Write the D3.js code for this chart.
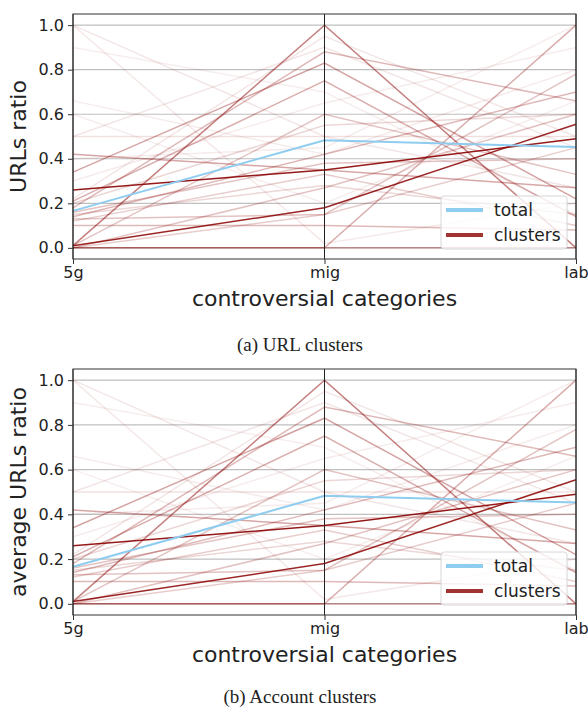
<!DOCTYPE html>
<html>
<head>
<meta charset="utf-8">
<script src="https://cdn.jsdelivr.net/npm/d3@7"></script>
<style>
  body { margin: 0; background: #fff; }
  svg text { font-family: "DejaVu Sans", sans-serif; fill: #222; }
  .caption { font-family: "Liberation Serif", "DejaVu Serif", serif; }
</style>
</head>
<body>
<div id="chart"></div>
<script>
  "use strict";

  // categories on the parallel axes
  var categories = ["5g", "mig", "lab"];
  var yTicks = [0.0, 0.2, 0.4, 0.6, 0.8, 1.0];

  // overall ratio
  var totalValues = [0.166, 0.483, 0.453];

  // one row per cluster: values at 5g, mig, lab
  var clusterValues = [
    [0.26, 0.35, 0.49],
    [0.01, 0.18, 0.555],
    [0.01, 1.00, 0.00],
    [0.00, 0.00, 1.00],
    [0.00, 0.00, 0.00],
    [0.42, 0.35, 0.27],
    [0.34, 0.83, 0.22],
    [0.21, 0.75, 0.14],
    [0.18, 0.88, 0.66],
    [0.14, 0.42, 0.70],
    [0.10, 0.10, 0.08],
    [0.13, 0.15, 0.78],
    [0.00, 0.27, 0.60],
    [0.16, 0.38, 0.40],
    [0.01, 0.60, 0.33],
    [0.50, 0.50, 0.50],
    [1.00, 0.50, 0.27],
    [1.00, 0.02, 0.20],
    [0.66, 0.42, 0.80],
    [0.50, 0.90, 0.45],
    [0.22, 0.95, 0.50],
    [0.30, 0.65, 0.90],
    [0.12, 0.33, 0.10],
    [0.20, 0.55, 0.60],
    [0.00, 0.15, 0.45],
    [0.90, 0.70, 0.15],
    [0.15, 0.28, 0.15],
    [0.40, 0.45, 1.00],
    [0.60, 0.20, 0.66]
  ];
  // line opacity for each cluster (cluster weight)
  var clusterAlpha = [
    0.9, 0.85, 0.5, 0.32, 0.35, 0.35, 0.36, 0.32, 0.28, 0.28,
    0.28, 0.24, 0.24, 0.24, 0.24, 0.12, 0.1, 0.09, 0.08, 0.1,
    0.1, 0.08, 0.2, 0.16, 0.2, 0.07, 0.16, 0.08, 0.07
  ];

  var panels = [
    { top: 14, bottom: 259, ylabel: "URLs ratio", caption: "(a) URL clusters", capY: 351 },
    { top: 369, bottom: 615, ylabel: "average URLs ratio", caption: "(b) Account clusters", capY: 703 }
  ];

  var left = 73, right = 576;

  var svg = d3.select("#chart").append("svg")
    .attr("width", 588)
    .attr("height", 710);

  var x = d3.scalePoint().domain(categories).range([left, right]);

  panels.forEach(function (p) {
    var y = d3.scaleLinear().domain([-0.05, 1.05]).range([p.bottom, p.top]);
    var g = svg.append("g");

    // grid
    g.selectAll("line.grid")
      .data(yTicks)
      .enter().append("line")
        .attr("class", "grid")
        .attr("x1", left).attr("x2", right)
        .attr("y1", function (d) { return y(d); })
        .attr("y2", function (d) { return y(d); })
        .attr("stroke", "#b0b0b0")
        .attr("stroke-opacity", 0.8)
        .attr("stroke-width", 1.2);

    var line = d3.line()
      .x(function (d, i) { return x(categories[i]); })
      .y(function (d) { return y(d); });

    // clusters
    g.selectAll("path.cluster")
      .data(clusterValues)
      .enter().append("path")
        .attr("class", "cluster")
        .attr("d", line)
        .attr("fill", "none")
        .attr("stroke", "darkred")
        .attr("stroke-width", 1.5)
        .attr("stroke-opacity", function (d, i) { return clusterAlpha[i]; });

    // total
    g.append("path")
      .datum(totalValues)
      .attr("d", line)
      .attr("fill", "none")
      .attr("stroke", "#8ecdf0")
      .attr("stroke-width", 2);

    // vertical axes
    g.selectAll("line.vax")
      .data(categories)
      .enter().append("line")
        .attr("class", "vax")
        .attr("x1", function (d) { return x(d); })
        .attr("x2", function (d) { return x(d); })
        .attr("y1", p.top).attr("y2", p.bottom)
        .attr("stroke", "#222")
        .attr("stroke-width", 1);

    // frame
    g.append("rect")
      .attr("x", left).attr("y", p.top)
      .attr("width", right - left).attr("height", p.bottom - p.top)
      .attr("fill", "none")
      .attr("stroke", "#333")
      .attr("stroke-width", 1);

    // y axis
    var yAxis = d3.axisLeft(y).tickValues(yTicks).tickFormat(d3.format(".1f")).tickSize(5).tickPadding(4);
    var ya = g.append("g").attr("transform", "translate(" + left + ",0)").call(yAxis);
    ya.select(".domain").remove();
    ya.selectAll("text").style("font-size", "16px").attr("fill", "#222");
    ya.selectAll("line").attr("stroke", "#333");

    // x axis
    var xAxis = d3.axisBottom(x).tickSize(5).tickPadding(3);
    var xa = g.append("g").attr("transform", "translate(0," + p.bottom + ")").call(xAxis);
    xa.select(".domain").remove();
    xa.selectAll("text").style("font-size", "16px").attr("fill", "#222");
    xa.selectAll("line").attr("stroke", "#333");

    // labels
    g.append("text")
      .attr("transform", "translate(26," + ((p.top + p.bottom) / 2) + ") rotate(-90)")
      .attr("text-anchor", "middle")
      .style("font-size", "22px")
      .text(p.ylabel);

    g.append("text")
      .attr("x", (left + right) / 2)
      .attr("y", p.bottom + 47)
      .attr("text-anchor", "middle")
      .style("font-size", "22px")
      .text("controversial categories");

    g.append("text")
      .attr("class", "caption")
      .attr("x", 300)
      .attr("y", p.capY)
      .attr("text-anchor", "middle")
      .style("font-size", "19px")
      .text(p.caption);

    // legend
    var lg = g.append("g").attr("transform", "translate(441," + (p.bottom - 63) + ")");
    lg.append("rect")
      .attr("width", 126).attr("height", 53)
      .attr("rx", 3)
      .attr("fill", "#fff").attr("fill-opacity", 0.8)
      .attr("stroke", "#d6d6d6");
    var items = [{ name: "total", color: "#8ecdf0", op: 1 }, { name: "clusters", color: "darkred", op: 0.8 }];
    items.forEach(function (it, i) {
      lg.append("line")
        .attr("x1", 5).attr("x2", 42)
        .attr("y1", 14 + i * 25).attr("y2", 14 + i * 25)
        .attr("stroke", it.color).attr("stroke-opacity", it.op)
        .attr("stroke-width", 4);
      lg.append("text")
        .attr("x", 53).attr("y", 20 + i * 25)
        .style("font-size", "17px")
        .text(it.name);
    });
  });
</script>
</body>
</html>
